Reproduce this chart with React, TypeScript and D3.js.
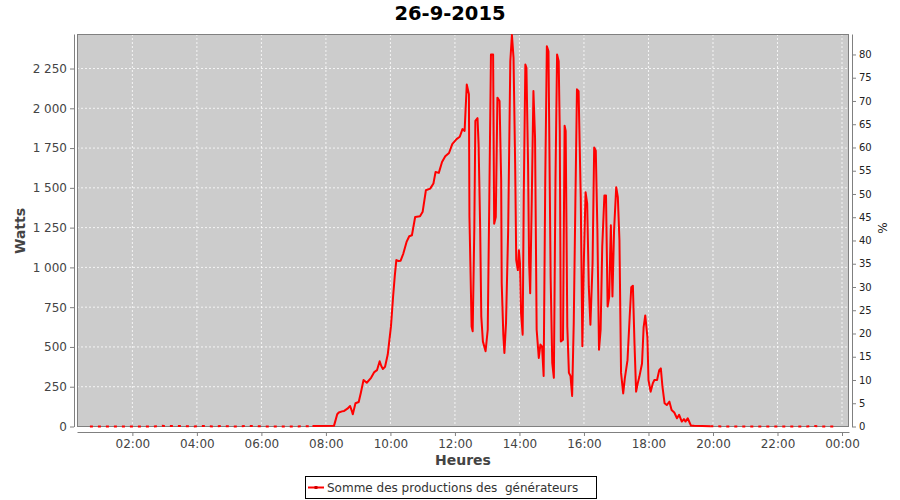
import React, { useEffect, useRef } from 'react';
import * as d3 from 'd3';

const title = "26-9-2015";
const legendLabel = "Somme des productions des  générateurs";
const xLabel = "Heures";
const yLabel = "Watts";
const y2Label = "%";

// night readings before sunrise (W)
const morningTimes = ["00:41", "01:10", "01:40", "02:10", "02:40", "02:55", "03:25", "03:55", "04:05", "04:35", "04:45", "05:15", "05:35", "06:05", "06:35", "07:05", "07:35"];
const morningWatts = [0, 0, 0, 0, 0, 4, 3, 0, 4, 0, 3, 0, 4, 0, 0, 0, 3];

// daytime readings (W)
const dayTimes = [
  "07:35", "08:15", "08:18", "08:21", "08:24", "08:30", "08:34", "08:40", "08:45", "08:48", "08:50", "08:55",
  "09:01", "09:05", "09:10", "09:16", "09:24", "09:30", "09:35", "09:40", "09:43", "09:46", "09:50", "09:55",
  "10:01", "10:05", "10:08", "10:11", "10:15", "10:19", "10:24", "10:30", "10:35", "10:40", "10:46", "10:55",
  "11:00", "11:06", "11:14", "11:20", "11:24", "11:30", "11:36", "11:42", "11:49", "11:55",
  "12:03", "12:09", "12:14", "12:18", "12:22", "12:26", "12:27", "12:31", "12:33", "12:36", "12:38", "12:42",
  "12:44", "12:47", "12:49", "12:52", "12:57",
  "13:01", "13:04", "13:07", "13:11", "13:13", "13:16", "13:19", "13:23", "13:26", "13:27", "13:30", "13:32",
  "13:35", "13:39", "13:43", "13:46", "13:49", "13:52", "13:54", "13:57", "13:59",
  "14:01", "14:03", "14:06", "14:08", "14:11", "14:13", "14:16", "14:18", "14:20", "14:23", "14:26", "14:29",
  "14:32", "14:36", "14:39", "14:42", "14:45", "14:48", "14:51", "14:54", "14:58",
  "15:01", "15:04", "15:07", "15:10", "15:13", "15:15", "15:17", "15:21", "15:24", "15:26", "15:29", "15:32",
  "15:35", "15:38", "15:41", "15:44", "15:47", "15:50", "15:54", "15:57",
  "16:00", "16:03", "16:06", "16:09", "16:12", "16:16", "16:19", "16:22", "16:25", "16:28", "16:31", "16:34",
  "16:38", "16:41", "16:44", "16:47", "16:50", "16:53", "16:56",
  "17:00", "17:03", "17:06", "17:09", "17:13", "17:16", "17:21", "17:25", "17:28", "17:31", "17:34", "17:37",
  "17:40", "17:43", "17:48", "17:51", "17:54", "17:58",
  "18:00", "18:04", "18:08", "18:11", "18:16", "18:20", "18:23", "18:26", "18:30", "18:34", "18:39", "18:43",
  "18:48", "18:53", "18:57",
  "19:02", "19:06", "19:09", "19:13", "19:19", "19:25", "19:40", "19:55",
];
const dayWatts = [
  3, 4, 40, 77, 88, 95, 98, 112, 129, 100, 77, 146,
  154, 212, 292, 275, 306, 342, 354, 410, 380, 362, 375, 452,
  629, 817, 942, 1046, 1040, 1042, 1087, 1160, 1196, 1202, 1317, 1321,
  1350, 1485, 1495, 1527, 1600, 1594, 1662, 1698, 1719, 1775,
  1806, 1821, 1869, 1858, 2150, 2088, 1317, 629, 598, 1233, 1921, 1938,
  1775, 1233, 692, 535, 473,
  608, 1442, 2338, 2338, 1275, 1317, 2067, 2046, 1546, 900, 577, 462,
  650, 1233, 2296, 2460, 2317, 1650, 1046, 983, 1108,
  1025, 712, 577, 1442, 2275, 2254, 1650, 1025, 837, 1442, 2108, 1817,
  608, 431, 515, 504, 317, 1546, 2390, 2358, 942,
  400, 306, 1546, 2338, 2296, 1858, 535, 546, 1890, 1858, 629, 337,
  317, 192, 650, 1400, 2119, 2108, 1442, 504,
  1067, 1473, 1400, 879, 640, 1025, 1754, 1733, 1233, 483, 608, 1129,
  1452, 1452, 754, 817, 1265, 817, 1233,
  1504, 1442, 1171, 337, 208, 302, 417, 687, 875, 885, 521, 219,
  271, 312, 396, 625, 698, 562,
  292, 219, 271, 292, 292, 354, 365, 250, 146, 135, 156, 104,
  88, 52, 73,
  31, 46, 31, 52, 6, 4, 3, 2,
];

// night readings after sunset (W)
const eveningTimes = ["19:55", "20:25", "20:55", "21:25", "21:55", "22:25", "22:55", "23:05", "23:25", "23:50"];
const eveningWatts = [2, 0, 0, 0, 0, 0, 0, 3, 0, 0];

const wattTicks = [0, 250, 500, 750, 1000, 1250, 1500, 1750, 2000, 2250];
const percentTicks = [0, 5, 10, 15, 20, 25, 30, 35, 40, 45, 50, 55, 60, 65, 70, 75, 80];
const wattMax = 2467;
const percentMax = 84.4;

const parseTime = (t: string) => {
  const [h, m] = t.split(":").map(Number);
  return new Date(2015, 8, 26, h, m);
};

const App = () => {
  const ref = useRef<SVGSVGElement>(null);

  useEffect(() => {
    document.body.style.margin = "0";
    const width = 900;
    const height = 500;
    const plot = { left: 77, right: 849, top: 34, bottom: 427 };
    const font = "'DejaVu Sans', sans-serif";

    const svg = d3.select(ref.current)
      .attr("width", width)
      .attr("height", height);
    svg.selectAll("*").remove();

    const fr = d3.formatLocale({ decimal: ",", thousands: "\u00a0", grouping: [3], currency: ["", " €"] });
    const fmt = fr.format(",d");

    const x = d3.scaleTime()
      .domain([new Date(2015, 8, 26, 0, 17), new Date(2015, 8, 27, 0, 13)])
      .range([plot.left, plot.right]);
    const y = d3.scaleLinear().domain([0, wattMax]).range([plot.bottom - 0.5, plot.top]);
    const y2 = d3.scaleLinear().domain([0, percentMax]).range([plot.bottom - 0.5, plot.top]);

    // plot background
    svg.append("rect")
      .attr("x", plot.left).attr("y", plot.top)
      .attr("width", plot.right - plot.left).attr("height", plot.bottom - plot.top)
      .attr("fill", "#cccccc");

    const xTicks = x.ticks(d3.timeHour.every(2)!);

    // grid
    svg.append("g").selectAll("line")
      .data(wattTicks.filter(d => d > 0))
      .join("line")
      .attr("x1", plot.left).attr("x2", plot.right)
      .attr("y1", d => y(d)).attr("y2", d => y(d))
      .attr("stroke", "#ffffff").attr("stroke-width", 0.8).attr("stroke-dasharray", "2,2");
    svg.append("g").selectAll("line")
      .data(xTicks)
      .join("line")
      .attr("x1", d => x(d)).attr("x2", d => x(d))
      .attr("y1", plot.top).attr("y2", plot.bottom)
      .attr("stroke", "#ffffff").attr("stroke-width", 0.8).attr("stroke-dasharray", "2,2");

    // plot outline
    svg.append("rect")
      .attr("x", plot.left + 0.5).attr("y", plot.top + 0.5)
      .attr("width", plot.right - plot.left - 1).attr("height", plot.bottom - plot.top - 1)
      .attr("fill", "none").attr("stroke", "#808080");

    // series
    const line = d3.line<[Date, number]>().x(d => x(d[0])).y(d => y(d[1]));
    const toPts = (ts: string[], ws: number[]) => ts.map((t, i) => [parseTime(t), ws[i]] as [Date, number]);
    const g = svg.append("g")
      .attr("fill", "none").attr("stroke", "#ff0000").attr("stroke-width", 2)
      .attr("stroke-linejoin", "round");
    g.append("path").attr("d", line(toPts(morningTimes, morningWatts))).attr("stroke-dasharray", "3,5");
    g.append("path").attr("d", line(toPts(eveningTimes, eveningWatts))).attr("stroke-dasharray", "3,5");
    g.append("path").attr("d", line(toPts(dayTimes, dayWatts)));

    const styleAxis = (sel: any, size: number, color: string) => {
      sel.select(".domain").attr("stroke", "#808080");
      sel.selectAll(".tick line").attr("stroke", "#808080");
      sel.selectAll(".tick text").attr("fill", color).attr("font-size", size).attr("font-family", font);
    };

    // Left axis
    const left = svg.append("g")
      .attr("transform", "translate(74,0)")
      .call(d3.axisLeft(y).tickValues(wattTicks).tickFormat(d => fmt(d as number)).tickSize(4).tickSizeOuter(0));
    styleAxis(left, 12, "#444444");

    // Right axis
    const right = svg.append("g")
      .attr("transform", "translate(852,0)")
      .call(d3.axisRight(y2).tickValues(percentTicks).tickSize(4).tickSizeOuter(0));
    styleAxis(right, 10, "#222222");

    // Bottom axis
    const bottom = svg.append("g")
      .attr("transform", "translate(0,432)")
      .call(d3.axisBottom(x).tickValues(xTicks).tickFormat(d => d3.timeFormat("%H:%M")(d as Date)).tickSize(4).tickSizeOuter(0));
    styleAxis(bottom, 12, "#444444");

    // Title
    svg.append("text")
      .attr("x", width / 2).attr("y", 20)
      .attr("text-anchor", "middle")
      .attr("font-family", font).attr("font-weight", "bold").attr("font-size", 19.5)
      .attr("fill", "#000")
      .text(title);

    // Axis labels
    svg.append("text")
      .attr("transform", "rotate(-90)")
      .attr("x", -231).attr("y", 25)
      .attr("text-anchor", "middle")
      .attr("font-family", font).attr("font-weight", "bold").attr("font-size", 14)
      .attr("fill", "#444444")
      .text(yLabel);
    svg.append("text")
      .attr("x", (plot.left + plot.right) / 2).attr("y", 465)
      .attr("text-anchor", "middle")
      .attr("font-family", font).attr("font-weight", "bold").attr("font-size", 14)
      .attr("fill", "#444444")
      .text(xLabel);
    svg.append("text")
      .attr("transform", "rotate(-90)")
      .attr("x", -228).attr("y", 887)
      .attr("text-anchor", "middle")
      .attr("font-family", font).attr("font-size", 12)
      .attr("fill", "#222222")
      .text(y2Label);

    // Legend
    const lg = svg.append("g");
    lg.append("rect")
      .attr("x", 305.5).attr("y", 476.5).attr("width", 291).attr("height", 22)
      .attr("fill", "#fff").attr("stroke", "#000");
    lg.append("line")
      .attr("x1", 308).attr("x2", 324).attr("y1", 487.5).attr("y2", 487.5)
      .attr("stroke", "#ff0000").attr("stroke-width", 2);
    lg.append("rect")
      .attr("x", 314.5).attr("y", 486).attr("width", 3).attr("height", 3)
      .attr("fill", "#cc0000");
    lg.append("text")
      .attr("x", 327).attr("y", 492)
      .attr("font-family", font).attr("font-size", 12)
      .attr("fill", "#333333")
      .style("white-space", "pre")
      .text(legendLabel);
  }, []);

  return <svg ref={ref} style={{ display: "block" }}></svg>;
};

export default App;
